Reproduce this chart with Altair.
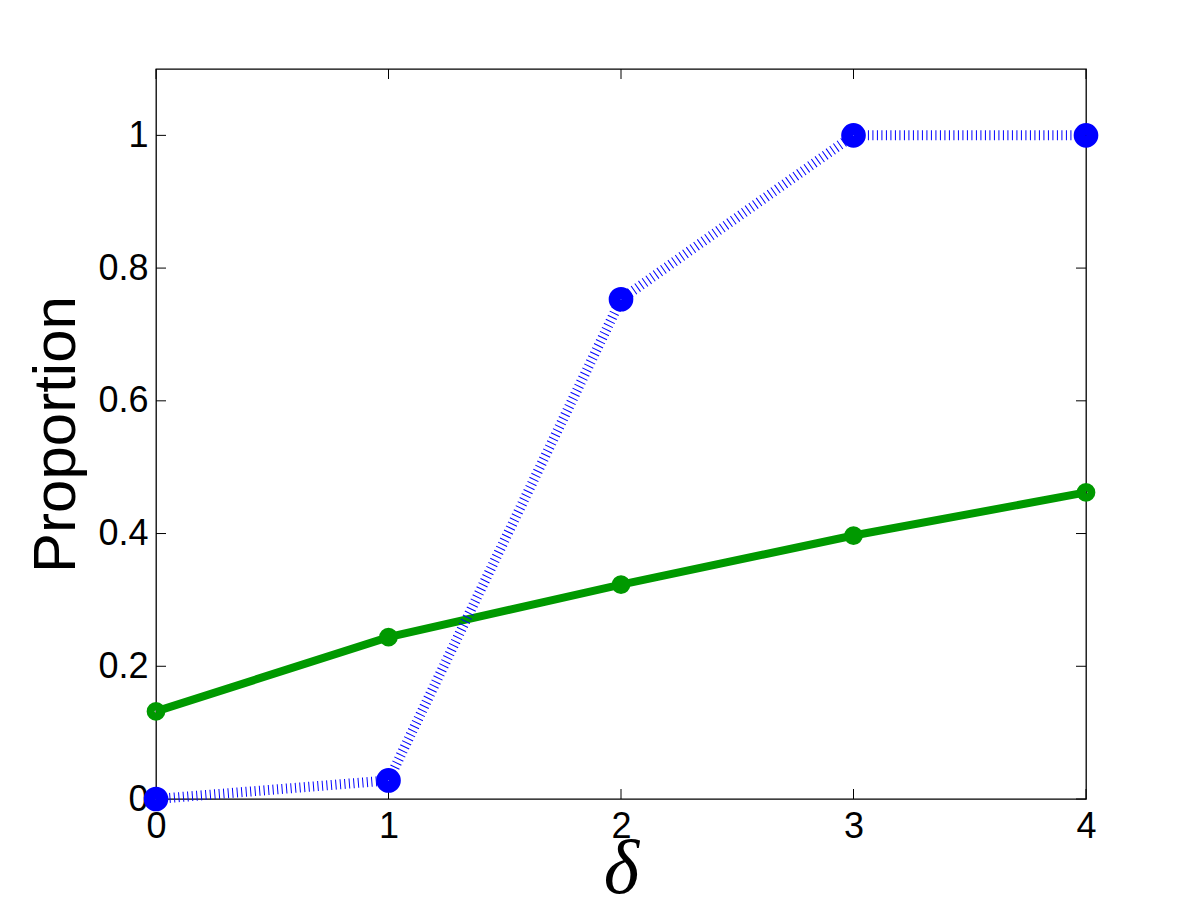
import altair as alt
import pandas as pd

delta = [0, 1, 2, 3, 4]
blue_vals = [0.0, 0.028, 0.753, 1.0, 1.0]
green_vals = [0.132, 0.244, 0.323, 0.397, 0.462]
x_ticks = [0, 1, 2, 3, 4]
y_ticks = [0, 0.2, 0.4, 0.6, 0.8, 1.0]

W, H = 930, 730
BLUE = "#0000ff"
GREEN = "#009900"

df_b = pd.DataFrame({"x": delta, "y": blue_vals})
df_g = pd.DataFrame({"x": delta, "y": green_vals})
df_xt = pd.DataFrame({"x": x_ticks})
df_yt = pd.DataFrame({"y": y_ticks})

xscale = alt.Scale(domain=[0, 4], nice=False, zero=False)
yscale = alt.Scale(domain=[0, 1.1], nice=False, zero=False)

x_axis = alt.Axis(values=x_ticks, format="~g", domain=False, ticks=False, grid=False,
                  labelFontSize=36, labelFont="Liberation Sans", labelColor="black",
                  labelPadding=10, labelFlush=False, labelOverlap=False,
                  title="δ", titleFont="Liberation Serif", titleFontStyle="italic",
                  titleFontWeight="normal", titleFontSize=76, titleColor="black",
                  titlePadding=-12)
y_axis = alt.Axis(values=y_ticks, format="~g", domain=False, ticks=False, grid=False,
                  labelFontSize=36, labelFont="Liberation Sans", labelColor="black",
                  labelPadding=8, labelFlush=False, labelOverlap=False,
                  title="Proportion", titleFont="Liberation Sans",
                  titleFontWeight="normal", titleFontSize=60, titleColor="black",
                  titlePadding=10)

X = alt.X("x:Q", scale=xscale, axis=x_axis)
Y = alt.Y("y:Q", scale=yscale, axis=y_axis)

green_line = alt.Chart(df_g).mark_line(color=GREEN, strokeWidth=8).encode(x=X, y=Y)
green_pts = alt.Chart(df_g).mark_point(shape="circle", filled=False, color=GREEN,
                                       strokeWidth=8, size=115, opacity=1).encode(x=X, y=Y)
blue_line = alt.Chart(df_b).mark_line(color=BLUE, strokeWidth=10,
                                      strokeDash=[1, 3.5]).encode(x=X, y=Y)
blue_pts = alt.Chart(df_b).mark_point(shape="circle", filled=False, color=BLUE,
                                      strokeWidth=12, size=160, opacity=1).encode(x=X, y=Y)

tick_len = 10
bottom_ticks = alt.Chart(df_xt).mark_rule(color="black", strokeWidth=1).encode(
    x=X, y=alt.value(H), y2=alt.value(H - tick_len))
top_ticks = alt.Chart(df_xt).mark_rule(color="black", strokeWidth=1).encode(
    x=X, y=alt.value(0), y2=alt.value(tick_len))
left_ticks = alt.Chart(df_yt).mark_rule(color="black", strokeWidth=1).encode(
    y=Y, x=alt.value(0), x2=alt.value(tick_len))
right_ticks = alt.Chart(df_yt).mark_rule(color="black", strokeWidth=1).encode(
    y=Y, x=alt.value(W), x2=alt.value(W - tick_len))

chart = alt.layer(
    green_line, bottom_ticks, top_ticks, left_ticks, right_ticks,
    green_pts, blue_line, blue_pts
).properties(
    width=W, height=H,
    autosize=alt.AutoSizeParams(type="none"),
    padding={"left": 148, "top": 61, "right": 100, "bottom": 120},
).configure(
    background="white",
    view=alt.ViewConfig(stroke="black", strokeWidth=1.3),
)

chart.save("out.html", embed_options={"renderer": "svg", "actions": False})
